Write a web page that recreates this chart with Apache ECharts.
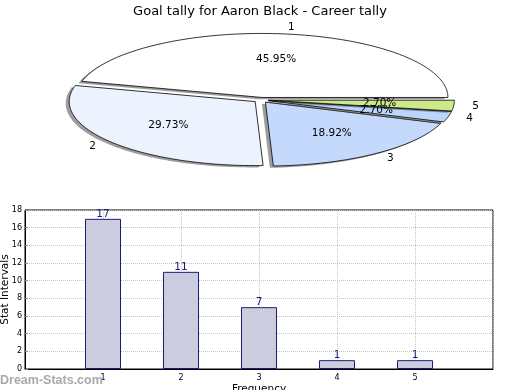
<!DOCTYPE html>
<html><head><meta charset="utf-8">
<script src="https://cdn.jsdelivr.net/npm/echarts@6/dist/echarts.min.js"></script>
<style>html,body{margin:0;padding:0;background:#fff}#c{width:520px;height:390px}</style>
</head><body><div id="c"></div>
<script>
const title = 'Goal tally for Aaron Black - Career tally';
const categories = ['1', '2', '3', '4', '5'];
const values = [17, 11, 7, 1, 1];
const sliceColors = ['#ffffff', '#ecf2fe', '#c5d9fd', '#bad6fc', '#cde98c'];
const yTicks = [0, 2, 4, 6, 8, 10, 12, 14, 16, 18];

const FONT = 'DejaVu Sans';
const total = values.reduce((a, b) => a + b, 0);
const P = { cx: 261, cy: 100, rx: 186, ry: 64, explode: 0.04, sx: -3.5, sy: 1.8 };

function renderSlice(params, api) {
  const idx = params.dataIndex;
  const v = api.value(0);
  const before = values.slice(0, idx).reduce((a, b) => a + b, 0);
  const a0 = before / total * Math.PI * 2;
  const a1 = (before + v) / total * Math.PI * 2;
  const mid = (a0 + a1) / 2;
  const dx = P.explode * P.rx * Math.cos(mid);
  const dy = -P.explode * P.ry * Math.sin(mid);
  const ox = P.cx + dx, oy = P.cy + dy;
  const pts = [[ox, oy]];
  const n = Math.max(4, Math.ceil((a1 - a0) / 0.02));
  for (let i = 0; i <= n; i++) {
    const a = a0 + (a1 - a0) * i / n;
    pts.push([ox + P.rx * Math.cos(a), oy - P.ry * Math.sin(a)]);
  }
  const shadowPts = pts.map(p => [p[0] + P.sx, p[1] + P.sy]);
  const pct = (v / total * 100).toFixed(2) + '%';
  const c = Math.cos(mid), s = Math.sin(mid);
  return {
    type: 'group',
    children: [
      { type: 'polygon', shape: { points: shadowPts }, style: { fill: 'rgba(60,60,60,0.5)' }, z2: idx * 2 },
      { type: 'polygon', shape: { points: pts }, style: { fill: sliceColors[idx], stroke: '#000', lineWidth: 0.8 }, z2: idx * 2 + 1 },
      { type: 'text', z2: 100, style: { text: pct, x: ox + 0.6 * P.rx * c, y: oy - 0.6 * P.ry * s, align: 'center', verticalAlign: 'middle', fill: '#000', font: '10.5px "' + FONT + '"' } },
      { type: 'text', z2: 100, style: { text: categories[idx], x: ox + 1.1 * P.rx * c, y: oy - 1.1 * P.ry * s, align: c >= 0 ? 'left' : 'right', verticalAlign: 'middle', fill: '#000', font: '10.5px "' + FONT + '"' } }
    ]
  };
}

const chart = echarts.init(document.getElementById('c'), null, { renderer: 'canvas' });
chart.setOption({
  animation: false,
  backgroundColor: '#fff',
  textStyle: { fontFamily: FONT },
  title: { text: title, left: 'center', top: 0, textStyle: { fontFamily: FONT, fontSize: 13, fontWeight: 'normal', color: '#000' } },
  graphic: [{ type: 'text', left: 0, top: 374, style: { text: 'Dream-Stats.com', fill: '#a9a9a9', font: 'bold 12.5px "Liberation Sans"' }, z: 100 }],
  grid: { left: 25, right: 27, top: 210, bottom: 21, containLabel: false, outerBoundsMode: 'none', show: true, borderColor: '#000', borderWidth: 1, backgroundColor: 'transparent' },
  xAxis: {
    type: 'value', min: 0, max: 6, interval: 1,
    name: 'Frequency', nameLocation: 'middle', nameGap: 15, nameMoveOverlap: false,
    nameTextStyle: { fontFamily: FONT, fontSize: 10.5, color: '#000' },
    axisLine: { show: true, lineStyle: { color: '#000' } },
    axisTick: { show: false },
    axisLabel: { fontFamily: FONT, fontSize: 8, color: '#000', margin: 5,
      formatter: v => (categories.indexOf(String(v)) >= 0 ? String(v) : '') },
    splitLine: { show: true, lineStyle: { color: '#c4c4c4', type: 'dotted' } }
  },
  yAxis: {
    type: 'value', min: 0, max: 18, interval: 2,
    name: 'Stat Intervals', nameLocation: 'middle', nameGap: 14, nameMoveOverlap: false,
    nameTextStyle: { fontFamily: FONT, fontSize: 10.5, color: '#000' },
    axisLine: { show: true, lineStyle: { color: '#000' } },
    axisTick: { show: true, inside: true, length: 3, lineStyle: { color: '#888' } },
    axisLabel: { fontFamily: FONT, fontSize: 8, color: '#000', margin: 3,
      formatter: v => (yTicks.indexOf(v) >= 0 ? String(v) : '') },
    splitLine: { show: true, lineStyle: { color: '#c4c4c4', type: 'dotted' } }
  },
  series: [
    {
      type: 'custom', coordinateSystem: 'none', renderItem: renderSlice,
      data: values.map(v => [v]), silent: true
    },
    {
      type: 'bar', barWidth: 36,
      data: categories.map((c, i) => [Number(c), values[i]]),
      itemStyle: { color: '#ccccdf', borderColor: '#1a1a7a', borderWidth: 1 },
      label: { show: true, position: 'top', distance: -1, color: '#1a1a7a', fontFamily: FONT, fontSize: 10.5 }
    }
  ]
});
</script></body></html>
